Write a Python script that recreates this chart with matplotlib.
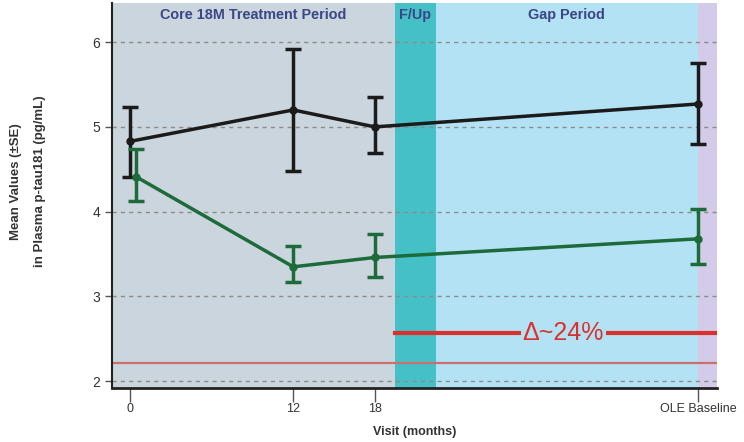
import matplotlib
matplotlib.use('Agg')
import matplotlib.pyplot as plt

plt.rcParams['font.family'] = ['Liberation Sans', 'DejaVu Sans']

# visit positions (months); OLE baseline sits after the gap period
VISITS = [0, 12, 18, 41.8]
XTICK_LABELS = ['0', '12', '18', 'OLE Baseline']

# plasma p-tau181 means and SE
placebo_mean = [4.83, 5.20, 5.00, 5.27]
placebo_se_lo = [0.42, 0.72, 0.31, 0.47]
placebo_se_hi = [0.40, 0.72, 0.35, 0.48]
treated_mean = [4.41, 3.35, 3.46, 3.68]
treated_se_lo = [0.28, 0.18, 0.23, 0.30]
treated_se_hi = [0.33, 0.24, 0.28, 0.35]

# study periods (start, end in months)
PERIODS = [('Core 18M Treatment Period', -1.35, 19.5, '#cbd5dd'),
           ('F/Up', 19.5, 22.5, '#46c0c7'),
           ('Gap Period', 22.5, 41.8, '#b4e2f5'),
           ('', 41.8, 43.2, '#d3cbe7')]

DELTA_LEVEL = 2.57
REF_LEVEL = 2.21
DELTA_TEXT = '\u0394~24%'

fig = plt.figure(figsize=(7.44, 4.42), dpi=100)
ax = fig.add_axes([0.1505, 0.122, 0.813, 0.871])
ax.set_xlim(-1.35, 43.2)
ax.set_ylim(1.92, 6.46)

for name, x0, x1, color in PERIODS:
    ax.axvspan(x0, x1, color=color, lw=0, zorder=0)
    if name:
        ax.text((x0 + x1) / 2, 6.32, name, ha='center', va='center', fontsize=10.4,
                fontweight='bold', color='#3b4686', zorder=5)

for y in [2, 3, 4, 5, 6]:
    ax.axhline(y, color='#8c8c8c', lw=1, ls=(0, (3, 3)), zorder=1)

ax.axhline(REF_LEVEL, color='#c9716f', lw=1.6, zorder=2)
ax.plot([19.5, 43.2], [DELTA_LEVEL, DELTA_LEVEL], color='#d9322e', lw=3, zorder=2)
ax.text(31.9, DELTA_LEVEL, DELTA_TEXT, ha='center', va='center', fontsize=18,
        color='#d9322e', zorder=3,
        bbox=dict(facecolor='#b4e2f5', edgecolor='none', pad=1))

ax.errorbar(VISITS, placebo_mean, yerr=[placebo_se_lo, placebo_se_hi], color='#1b1b1b',
            lw=2.5, elinewidth=2.5, capsize=6, capthick=2.5, marker='o', ms=5, zorder=4)
ax.errorbar([VISITS[0] + 0.45] + VISITS[1:], treated_mean, yerr=[treated_se_lo, treated_se_hi],
            color='#1d6b3b', lw=2.5, elinewidth=2.5, capsize=6, capthick=2.5, marker='o', ms=5,
            zorder=4)

ax.set_xticks(VISITS)
ax.set_xticklabels(XTICK_LABELS)
ax.set_yticks([2, 3, 4, 5, 6])
ax.tick_params(axis='x', length=10, width=1, color='#555555', labelsize=9, labelcolor='#333333',
               pad=1)
ax.tick_params(axis='y', length=5, width=1, color='#555555', labelsize=10, labelcolor='#333333')

for side in ['top', 'right']:
    ax.spines[side].set_visible(False)
ax.spines['left'].set_color('#222222')
ax.spines['left'].set_linewidth(1.5)
ax.spines['bottom'].set_color('#222222')
ax.spines['bottom'].set_linewidth(2)

ax.set_xlabel('Visit (months)', fontsize=9, fontweight='bold', color='#333333', labelpad=8)
ax.set_ylabel('Mean Values (\u00b1SE)\nin Plasma p-tau181 (pg/mL)', fontsize=9.5,
              fontweight='bold', color='#333333', linespacing=2.3)
ax.yaxis.set_label_coords(-0.109, 0.537)

fig.savefig('out.png', dpi=100)
